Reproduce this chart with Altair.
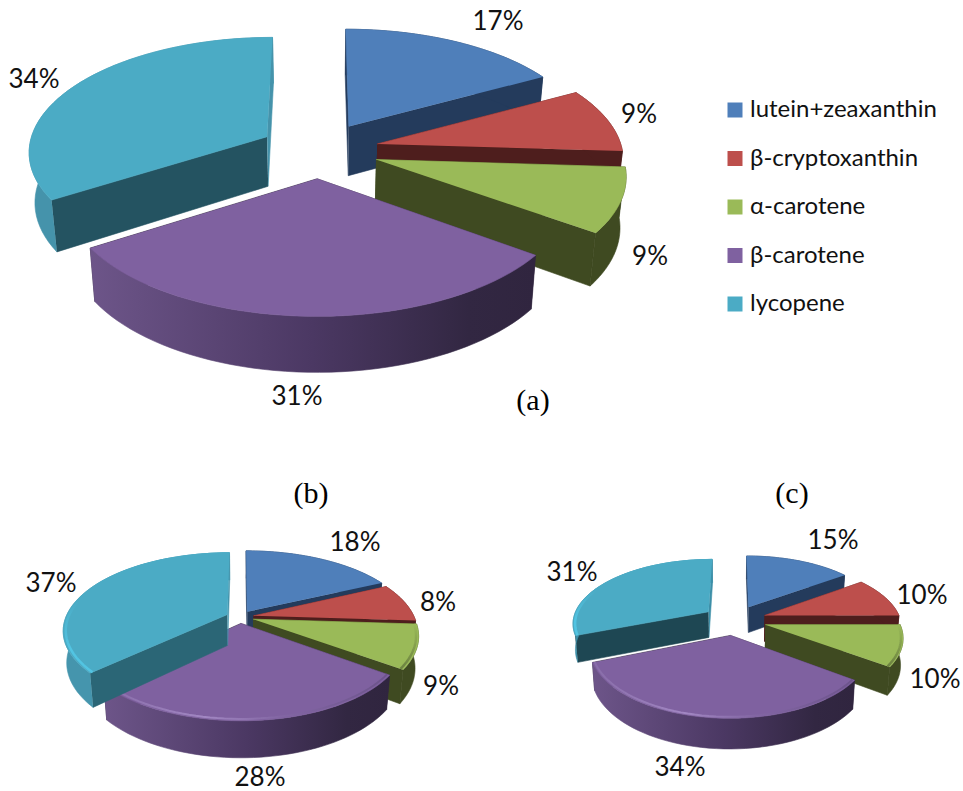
import math
import altair as alt
import pandas as pd

# Carotenoid shares for the three exploded 3D pies
pigments = ["lutein+zeaxanthin", "β-cryptoxanthin", "α-carotene", "β-carotene", "lycopene"]
shares_a = [17, 9, 9, 31, 34]
shares_b = [18, 8, 9, 28, 37]
shares_c = [15, 10, 10, 34, 31]

# Centre of each percentage label, in slice order
labels_a = [(498, 22), (639, 115), (650, 257), (297, 397), (34, 80)]
labels_b = [(355, 543), (438, 603), (441, 687), (260, 778), (51, 584)]
labels_c = [(833, 541), (922, 596), (935, 680), (680, 768), (572, 573)]

panel_names = ["(a)", "(b)", "(c)"]
panel_spots = [(533, 401), (311, 494), (792, 494)]

top_colors = ["#4f7fba", "#bd4f4c", "#9aba58", "#7f61a0", "#4babc5"]
side_colors = ["#243b5c", "#4e1e1d", "#3f4a21", "#245361"]

# Pie geometry: centre, radii, perspective strength, explosion, rim depth,
# sideways tweak per slice, bottom-face shrink towards the centre
pies = [
    dict(shares=shares_a, labels=labels_a, cx=319, cy=150, rx=245, ry=114, k=0.118, e=0.245, h=50,
         widths=[0.985, 1, 1, 0.995, 0.975], shrink=0.98,
         bevel=False, teal_side="#245361", teal_rim="#4593ab"),
    dict(shares=shares_b, labels=labels_b, cx=240, cy=617, rx=164, ry=75, k=0.2, e=0.084, h=31,
         widths=[1, 0.98, 0.98, 0.97, 0.985], shrink=0.98,
         bevel=True, teal_side="#2b6676", teal_rim="#4595ad"),
    dict(shares=shares_c, labels=labels_c, cx=734.5, cy=620, rx=136, ry=63.5, k=0.165, e=0.235, h=26,
         widths=[1, 1, 0.98, 0.98, 1], shrink=0.985,
         bevel=True, teal_side="#1e4753", teal_rim="#3d8fa8"),
]

X = alt.X("x:Q", scale=alt.Scale(domain=[0, 963]), axis=None)
Y = alt.Y("y:Q", scale=alt.Scale(domain=[791, 0]), axis=None)


def horizontal(stops):
    return alt.Gradient(
        gradient="linear", x1=0, x2=1, y1=0, y2=0,
        stops=[alt.GradientStop(offset=o, color=c) for o, c in stops],
    )


def vertical(stops):
    return alt.Gradient(
        gradient="linear", x1=0, x2=0, y1=0, y2=1,
        stops=[alt.GradientStop(offset=o, color=c) for o, c in stops],
    )


def polygon(points, fill):
    frame = pd.DataFrame(points, columns=["x", "y"])
    frame["i"] = range(len(points))
    return alt.Chart(frame).mark_line(
        fill=fill, stroke=fill, strokeWidth=0.6
    ).encode(x=X, y=Y, order="i:Q")


def polyline(points, stroke, width, opacity=1.0):
    frame = pd.DataFrame(points, columns=["x", "y"])
    frame["i"] = range(len(points))
    return alt.Chart(frame).mark_line(
        stroke=stroke, strokeWidth=width, opacity=opacity
    ).encode(x=X, y=Y, order="i:Q")


def draw_pie(pie):
    cx, cy, rx, ry, k, e, h, shrink = (
        pie[n] for n in ("cx", "cy", "rx", "ry", "k", "e", "h", "shrink")
    )

    def project(u, v):
        w = 1.0 / (1.0 - k * v)
        return (cx + rx * u * w, cy + ry * v * w)

    def project_low(u, v):
        w = 1.0 / (1.0 - k * v)
        px, py = project(u, v)
        return (cx + (px - cx) * shrink, py + h * (1 + (w - 1) * 0.7))

    layers = []
    total = sum(pie["shares"])
    cum = 0.0
    for idx, share in enumerate(pie["shares"]):
        a0 = 2 * math.pi * cum / total
        a1 = 2 * math.pi * (cum + share) / total
        cum += share
        mid = (a0 + a1) / 2
        ou, ov = e * math.sin(mid), -e * math.cos(mid)
        xs = pie["widths"][idx]
        steps = 48
        angles = [a0 + (a1 - a0) * s / steps for s in range(steps + 1)]

        def ring(r):
            return [(ou + xs * r * math.sin(a), ov - r * math.cos(a)) for a in angles]

        rim = ring(1.0)
        top_rim = [project(u, v) for u, v in rim]
        low_rim = [project_low(u, v) for u, v in rim]
        apex = project(ou, ov)
        low_apex = project_low(ou, ov)

        side = side_colors[idx] if idx < 3 else pie["teal_side"] if idx == 4 else "#33263f"
        closing_side = pie["teal_rim"] if idx == 4 else side
        layers.append(polygon([apex, top_rim[0], low_rim[0], low_apex], side))
        layers.append(polygon([apex, top_rim[-1], low_rim[-1], low_apex], closing_side))

        if idx == 3:
            wall = horizontal([(0, "#6d5589"), (0.5, "#4b3863"), (0.85, "#322742"), (1, "#30253f")])
        elif idx == 4:
            wall = pie["teal_rim"]
        else:
            wall = side
        layers.append(polygon(top_rim + low_rim[::-1], wall))
        layers.append(polygon([apex] + top_rim, top_colors[idx]))

        if pie["bevel"] and idx == 3:
            glow = horizontal([(0, "#8a6fab"), (0.35, "#a88ec9"), (0.62, "#8367a4"), (1, "#6a5288")])
            layers.append(polyline([project(u, v) for u, v in ring(0.985)], glow, 2, 0.85))
        if pie["bevel"] and idx == 4:
            glow = vertical([(0, "#4babc5"), (0.4, "#4babc5"), (0.8, "#52c4e2"), (1, "#52c4e2")])
            layers.append(polyline([project(u, v) for u, v in ring(0.985)], glow, 2.5))
        if pie["bevel"] and idx == 2:
            glow = vertical([(0, "#9aba58"), (1, "#6c8240")])
            layers.append(polyline([project(u, v) for u, v in ring(0.985)], glow, 2.5))
    return layers


layers = []

# Legend carrier: zero-sized squares keyed by pigment
legend_frame = pd.DataFrame({"pigment": pigments, "x": [0] * 5, "y": [0] * 5})
layers.append(
    alt.Chart(legend_frame).mark_square(size=0).encode(
        x=X, y=Y,
        color=alt.Color(
            "pigment:N",
            scale=alt.Scale(domain=pigments, range=top_colors),
            legend=alt.Legend(
                title=None, orient="none", legendX=723, legendY=98,
                symbolType="square", symbolSize=225, symbolStrokeWidth=0, symbolOpacity=1,
                labelFont="Lato", labelFontSize=24, labelColor="#111111", labelLimit=300,
                rowPadding=24.5, labelOffset=3,
            ),
        ),
    )
)

for pie in pies:
    layers.extend(draw_pie(pie))

# Percentage labels
text_rows = []
for pie in pies:
    for share, (lx, ly) in zip(pie["shares"], pie["labels"]):
        text_rows.append({"x": lx, "y": ly, "t": f"{share}%"})
layers.append(
    alt.Chart(pd.DataFrame(text_rows)).mark_text(
        font="Lato", fontSize=26, color="#111111", align="center", baseline="middle"
    ).encode(x=X, y=Y, text="t:N")
)

# Panel letters
panel_rows = [{"x": p[0], "y": p[1], "t": n} for n, p in zip(panel_names, panel_spots)]
layers.append(
    alt.Chart(pd.DataFrame(panel_rows)).mark_text(
        font="Liberation Serif", fontSize=30, color="#000000", align="center", baseline="middle"
    ).encode(x=X, y=Y, text="t:N")
)

chart = alt.layer(*layers).properties(
    width=963, height=791, padding=0, autosize=alt.AutoSizeParams(type="none"), background="white"
).configure_view(stroke=None)

chart.save("out.html", embed_options={"renderer": "svg", "actions": False})
